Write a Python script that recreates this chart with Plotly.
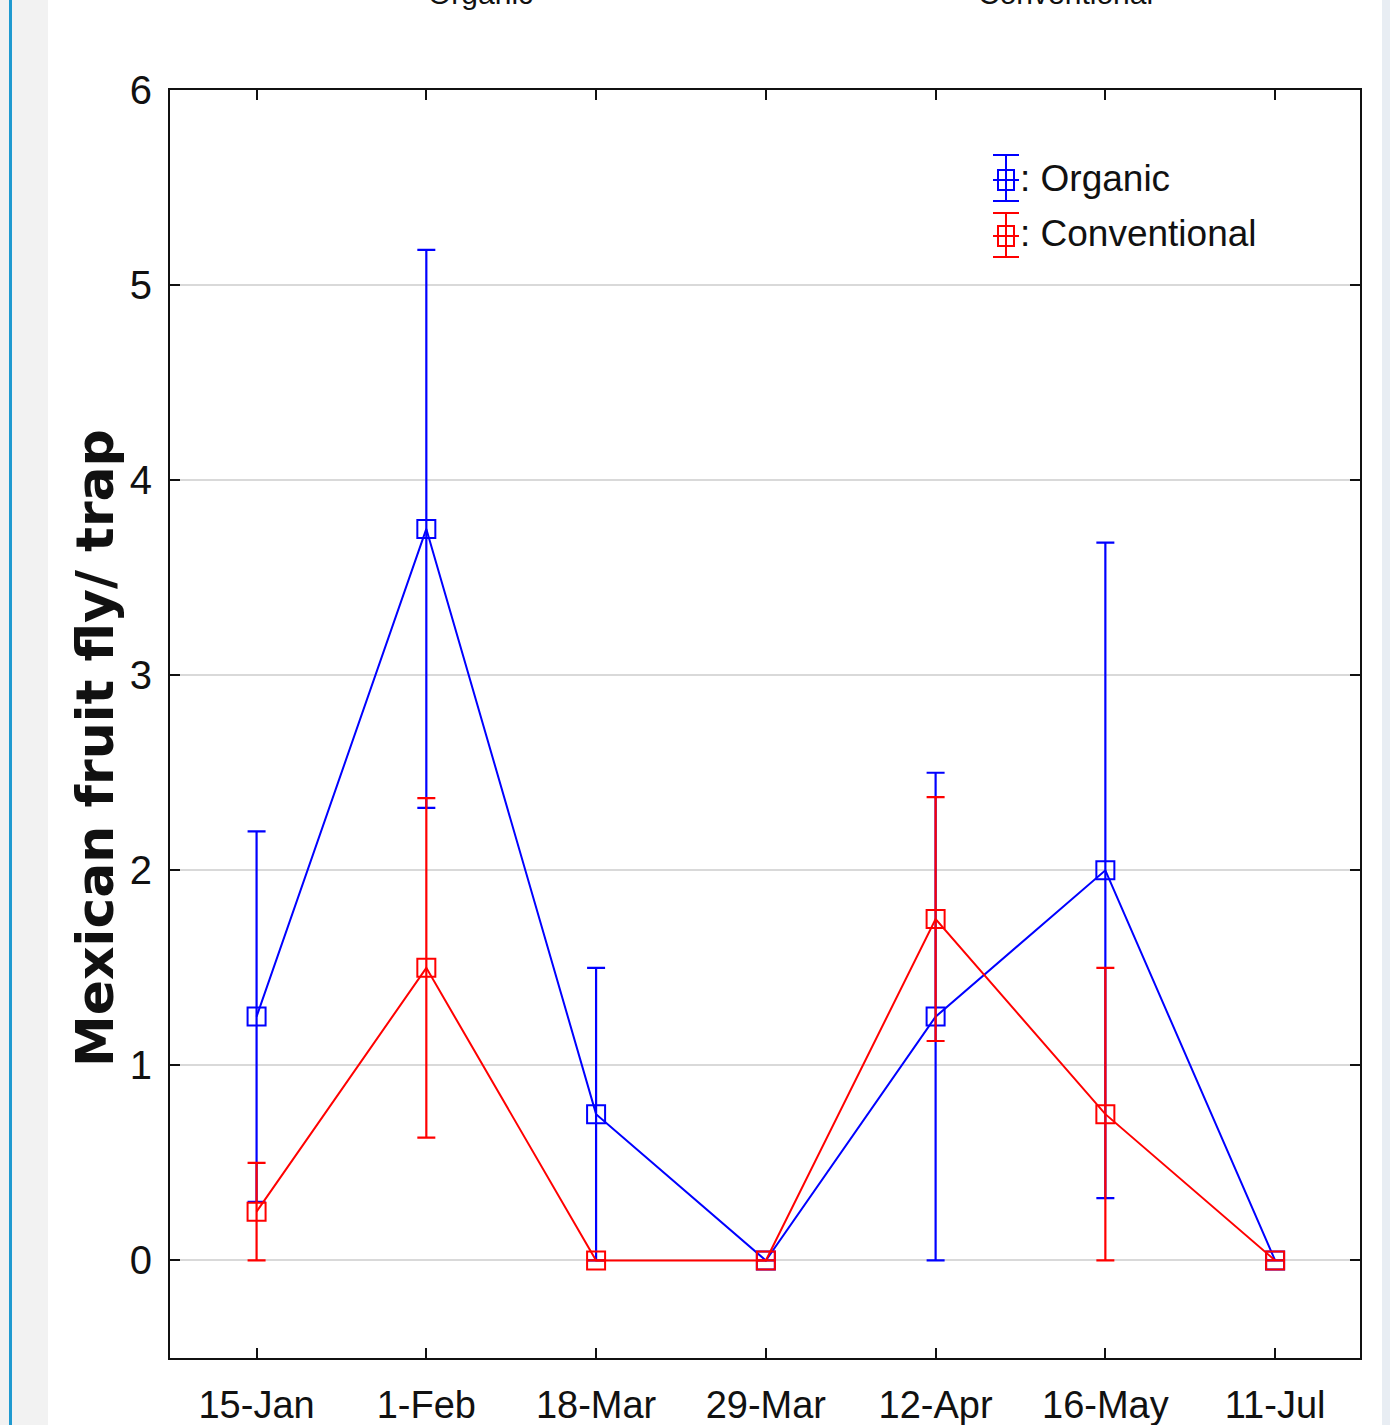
import plotly.graph_objects as go

dates = ["15-Jan", "1-Feb", "18-Mar", "29-Mar", "12-Apr", "16-May", "11-Jul"]
organic = [1.25, 3.75, 0.75, 0.0, 1.25, 2.0, 0.0]
organic_err = [0.95, 1.43, 0.75, 0.0, 1.25, 1.68, 0.0]
conventional = [0.25, 1.5, 0.0, 0.0, 1.75, 0.75, 0.0]
conventional_err = [0.25, 0.87, 0.0, 0.0, 0.625, 0.75, 0.0]

BLUE = "#0000FF"
RED = "#FF0000"
NARROW = "Liberation Sans Narrow, Arial Narrow, Liberation Sans, Arial, sans-serif"

W, H = 1390, 1425
L, R, T, B = 170, 1360, 90, 1358


def px(x):
    return (x - L) / (R - L)


def py(y):
    return (B - y) / (B - T)


fig = go.Figure()
for name, vals, errs, col in [("Organic", organic, organic_err, BLUE),
                              ("Conventional", conventional, conventional_err, RED)]:
    fig.add_trace(go.Scatter(
        x=dates, y=vals, name=name, mode="lines+markers",
        line=dict(color=col, width=2),
        marker=dict(symbol="square-open", size=18, color=col, line=dict(width=2, color=col)),
        error_y=dict(type="data", array=errs, visible=True, color=col, thickness=2.2, width=9),
        showlegend=False,
    ))

shapes = []
# page decorations
shapes.append(dict(type="rect", xref="paper", yref="paper", x0=px(0), x1=px(48), y0=py(0), y1=py(H),
                   fillcolor="#f2f2f2", line=dict(width=0), layer="below"))
shapes.append(dict(type="rect", xref="paper", yref="paper", x0=px(9), x1=px(12), y0=py(0), y1=py(H),
                   fillcolor="#1f9ad0", line=dict(width=0)))
shapes.append(dict(type="rect", xref="paper", yref="paper", x0=px(1382), x1=px(W), y0=py(0), y1=py(H),
                   fillcolor="#e8edf3", line=dict(width=0), layer="below"))


def glyph(cx, ytop, ymid, ybot, col):
    out = [dict(type="line", xref="paper", yref="paper", x0=px(cx), x1=px(cx), y0=py(ytop), y1=py(ybot),
                line=dict(color=col, width=2))]
    for yy in (ytop, ymid, ybot):
        out.append(dict(type="line", xref="paper", yref="paper", x0=px(cx - 13), x1=px(cx + 13),
                        y0=py(yy), y1=py(yy), line=dict(color=col, width=2)))
    out.append(dict(type="rect", xref="paper", yref="paper", x0=px(cx - 8), x1=px(cx + 8),
                    y0=py(ymid - 10), y1=py(ymid + 10), line=dict(color=col, width=2)))
    return out

shapes += glyph(1006, 155, 180, 201, BLUE)
shapes += glyph(1006, 213, 236, 257, RED)

TXT = "#111111"
annotations = [
    dict(text=": Organic", xref="paper", yref="paper", x=px(1018), y=py(178), xanchor="left", yanchor="middle",
         showarrow=False, font=dict(family=NARROW, size=37, color=TXT)),
    dict(text=": Conventional", xref="paper", yref="paper", x=px(1018), y=py(234), xanchor="left", yanchor="middle",
         showarrow=False, font=dict(family=NARROW, size=37, color=TXT)),
    dict(text="Mexican fruit fly/ trap", xref="paper", yref="paper", x=px(95), y=py(748), xanchor="center",
         yanchor="middle", textangle=-90, showarrow=False,
         font=dict(family="DejaVu Sans, Verdana, sans-serif", size=52, color=TXT, weight="bold")),
    dict(text="Organic", xref="paper", yref="paper", x=px(480), y=py(12), xanchor="center", yanchor="bottom",
         showarrow=False, font=dict(family="Liberation Sans, Arial, sans-serif", size=30, color=TXT)),
    dict(text="Conventional", xref="paper", yref="paper", x=px(1065), y=py(12), xanchor="center", yanchor="bottom",
         showarrow=False, font=dict(family="Liberation Sans, Arial, sans-serif", size=30, color=TXT)),
]

fig.update_layout(
    width=W, height=H,
    margin=dict(l=L, r=W - R, t=T, b=H - B, pad=0, autoexpand=False),
    paper_bgcolor="white", plot_bgcolor="white",
    shapes=shapes, annotations=annotations,
    showlegend=False,
)
fig.update_xaxes(
    type="category", range=[-0.51, 6.5], automargin=False,
    showline=True, linecolor=TXT, linewidth=2, mirror="ticks",
    ticks="inside", ticklen=10, tickwidth=2, tickcolor=TXT,
    showgrid=False, zeroline=False,
    tickfont=dict(family=NARROW, size=38, color=TXT),
    ticklabelstandoff=12,
)
fig.update_yaxes(
    range=[-0.5, 6], tickvals=[0, 1, 2, 3, 4, 5, 6], automargin=False,
    showline=True, linecolor=TXT, linewidth=2, mirror="ticks",
    ticks="inside", ticklen=10, tickwidth=2, tickcolor=TXT,
    showgrid=True, gridcolor="#d9d9d9", gridwidth=2, zeroline=False,
    tickfont=dict(family=NARROW, size=40, color=TXT),
    ticklabelstandoff=8,
)

fig.write_html("out.html")
